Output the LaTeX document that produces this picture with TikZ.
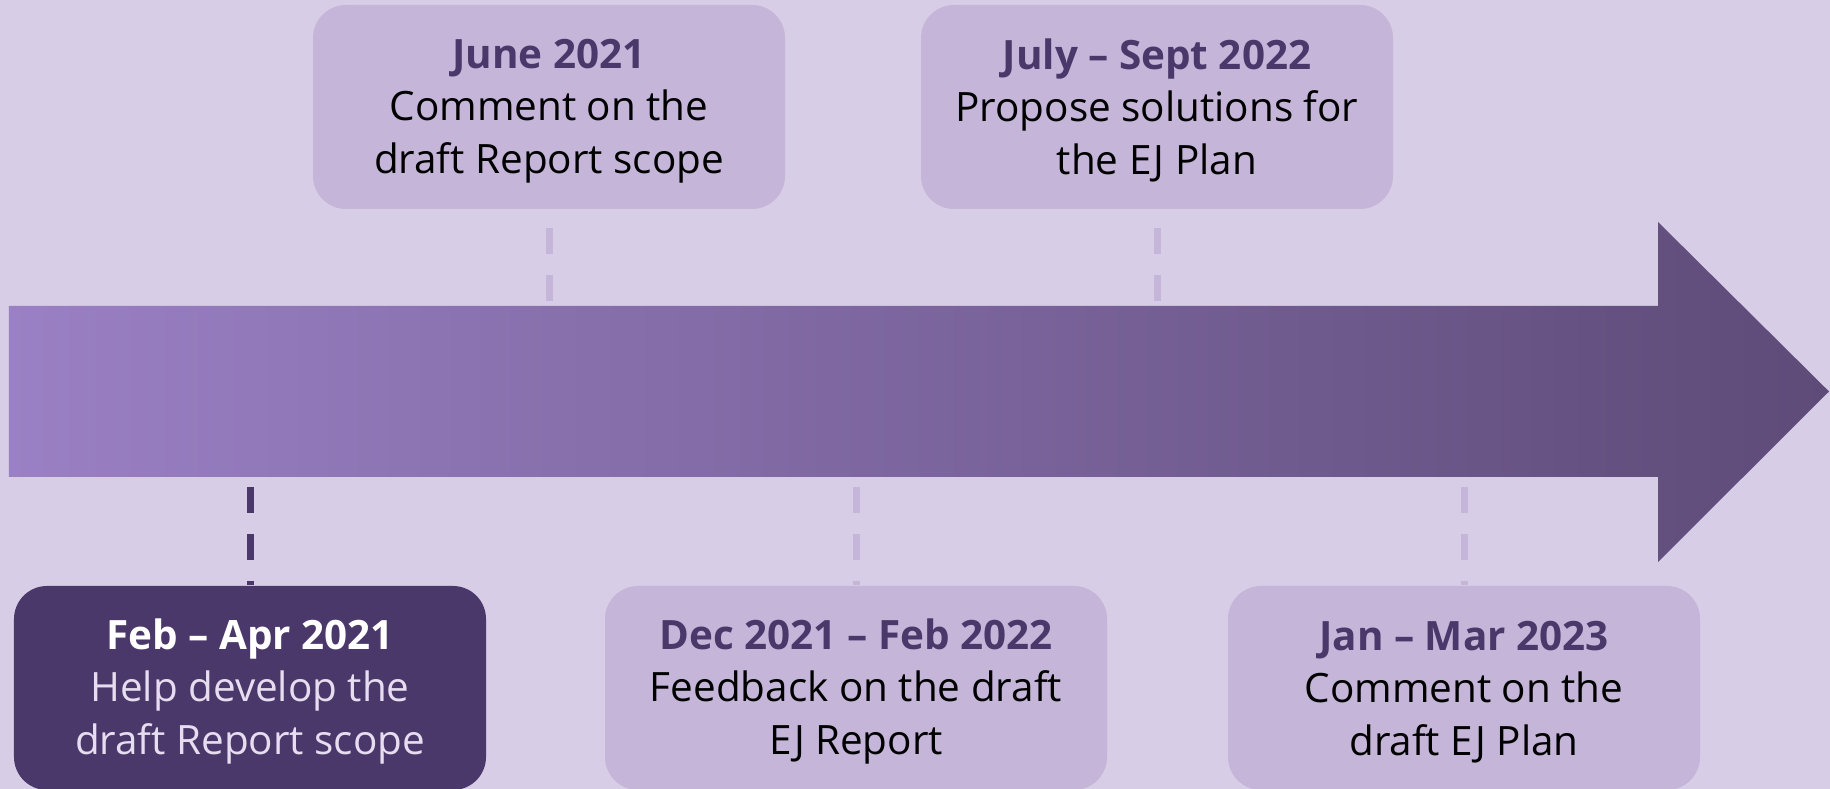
\documentclass[tikz,border=0pt]{standalone}
\usepackage{fontspec}
\setmainfont{Open Sans}
\usepackage{xcolor}
\definecolor{bgcol}{HTML}{D7CDE6}
\definecolor{boxcol}{HTML}{C4B5D9}
\definecolor{darkcol}{HTML}{4B386B}
\definecolor{arrowleft}{HTML}{9A80C4}
\definecolor{arrowright}{HTML}{5E4B78}
\definecolor{paletext}{HTML}{E6DDF0}
\tikzstyle{event}=[rounded corners=0.33cm,fill=boxcol,minimum width=4.72cm,minimum height=2.04cm,
  align=center,inner sep=0,font=\fontsize{11.5}{14.9}\selectfont]
\tikzstyle{darkevent}=[event,fill=darkcol,text=paletext]
\tikzstyle{link}=[line width=0.07cm,boxcol,dash pattern=on 0.26cm off 0.21cm]
\newcommand{\when}[2][darkcol]{\rule{0pt}{10.6pt}\textbf{\textcolor{#1}{#2}}}

\begin{document}
\begin{tikzpicture}
  \useasboundingbox (0,0) rectangle (18.30,7.89);
  \fill[bgcol] (0,0) rectangle (18.30,7.89);

  \coordinate (ST) at (0.09,4.83); % SHAFT TOP
  \coordinate (SB) at (0.09,3.12); % SHAFT BOTTOM
  \coordinate (HT) at (16.58,5.67); % HEAD TOP
  \coordinate (HB) at (16.58,2.27); % HEAD BOTTOM
  \coordinate (TIP) at (18.29,3.975);

  % ARROW
  \shade[left color=arrowleft,right color=arrowright]
    (ST) -- (ST -| HT) -- (HT) -- (TIP) -- (HB) -- (SB -| HB) -- (SB) -- cycle;

  % EVENTS ABOVE
  \node[event] (june) at (5.49,6.82) {\when{June 2021}\\Comment on the\\draft Report scope};
  \node[event] (july) at (11.57,6.82) {\when{July -- Sept 2022}\\Propose solutions for\\the EJ Plan};

  % EVENTS BELOW
  \node[darkevent] (feb) at (2.50,1.01) {\when[white]{Feb -- Apr 2021}\\Help develop the\\draft Report scope};
  \node[event,minimum width=5.02cm] (dec) at (8.56,1.01) {\when{Dec 2021 -- Feb 2022}\\Feedback on the draft\\EJ Report};
  \node[event] (jan) at (14.64,1.01) {\when{Jan -- Mar 2023}\\Comment on the\\draft EJ Plan};

  % LINKS
  \draw[link,dash phase=0.29cm] (june.south) -- (june.south |- ST);
  \draw[link,dash phase=0.29cm] (july.south) -- (july.south |- ST);
  \draw[link,darkcol,dash phase=0.37cm] (SB -| feb.north) -- (feb.north);
  \draw[link,dash phase=0.37cm] (SB -| dec.north) -- (dec.north);
  \draw[link,dash phase=0.37cm] (SB -| jan.north) -- (jan.north);
\end{tikzpicture}
\end{document}
